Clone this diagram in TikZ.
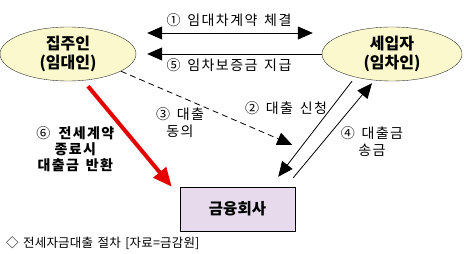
\documentclass[tikz,border=0pt]{standalone}
\usepackage{fontspec}
\setmainfont{Noto Sans CJK KR}
\newfontfamily\labelfont[LetterSpace=10,WordSpace=1.5]{Noto Sans CJK KR}
\newfontfamily\notefont[LetterSpace=1.5,WordSpace=1.5]{Noto Sans CJK KR}
\usepackage{tikz}
\usetikzlibrary{arrows.meta,shapes.geometric}
\definecolor{partyfill}{RGB}{250,248,204}
\definecolor{lenderfill}{RGB}{230,218,236}
\definecolor{returnred}{RGB}{228,0,0}

\begin{document}
\begin{tikzpicture}[
  x=1pt, y=1pt,
  party/.style={draw=black!80, ellipse, fill=partyfill, minimum width=136pt,
    minimum height=54pt, inner sep=0pt, align=center,
    font=\fontsize{16}{19}\selectfont\bfseries},
  lender/.style={draw=black, fill=lenderfill, minimum width=115pt, minimum height=44pt,
    font=\fontsize{15.5}{18}\selectfont\bfseries},
  lbl/.style={align=center, inner sep=0pt, font=\labelfont\fontsize{14}{17}\selectfont},
  flow/.style={-{Triangle[length=15pt,width=13pt]}, line width=0.8pt, draw=black},
  both/.style={flow, {Triangle[length=15pt,width=13pt]}-{Triangle[length=15pt,width=13pt]}},
  consent/.style={flow, dash pattern=on 6pt off 4pt},
  payback/.style={-{Triangle[length=19pt,width=16pt]}, line width=4pt, draw=returnred}
]
\useasboundingbox (0,0) rectangle (464,254);

\node[party] (landlord) at (68,200) {집주인\\(임대인)};
\node[party, minimum width=140pt] (tenant) at (392,200) {세입자\\(임차인)};
\node[lender] (bank) at (237.5,45) {금융회사};

\draw[both] ([shift={(11pt,21pt)}]landlord.east) -- ([shift={(-9pt,21pt)}]tenant.west);
\draw[flow] (tenant.west) -- ([xshift=11pt]landlord.east);
\draw[consent] (landlord.-18) -- ([shift={(-3pt,42pt)}]bank.north east);
\draw[flow] ([xshift=-40pt]tenant.south) -- ([shift={(-17pt,10pt)}]bank.north east);
\draw[flow] ([shift={(-2pt,9pt)}]bank.north east) -- ([shift={(-20pt,-2pt)}]tenant.south);
\draw[payback] ([shift={(20pt,-5pt)}]landlord.south) -- ([xshift=-8pt]bank.north west);

\node[lbl] (contract) at (229,234) {① 임대차계약 체결};
\node[lbl] (deposit) at (229,189) {⑤ 임차보증금 지급};
\node[lbl] (apply) at (286,146) {② 대출 신청};
\node[lbl] (agree) at (180,131.5) {③ 대출\\동의};
\node[lbl] (remit) at (372,112.5) {④ 대출금\\송금};
\node[lbl, font=\labelfont\fontsize{14}{16}\selectfont] (repay) at (76,105)
  {⑥ \textbf{전세계약}\\\textbf{종료시}\\\textbf{대출금 반환}};
\node[anchor=west, inner sep=0pt, font=\notefont\fontsize{12.5}{14}\selectfont] (source) at (6,11)
  {◇ 전세자금대출 절차 [자료=금감원]};
\end{tikzpicture}
\end{document}
